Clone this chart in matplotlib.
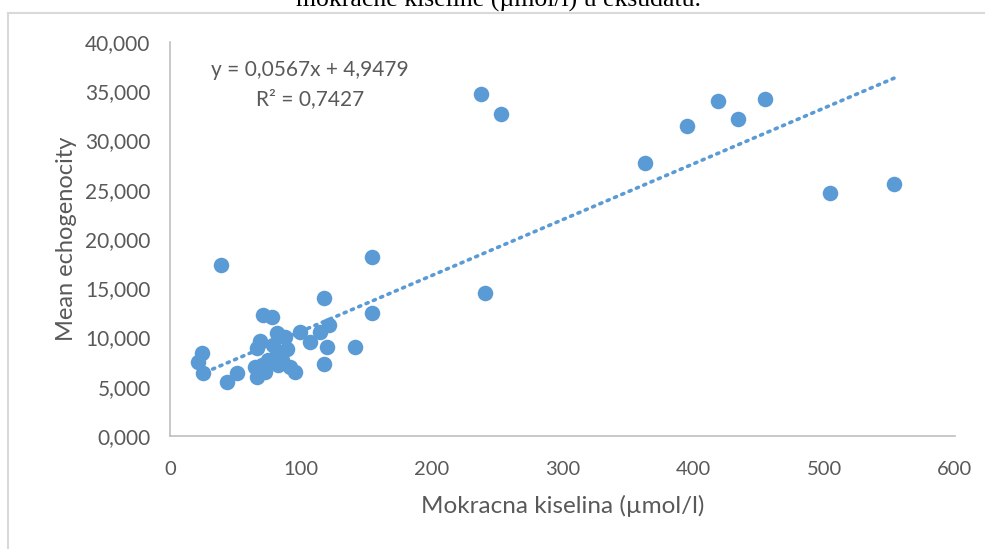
import matplotlib.pyplot as plt
from matplotlib.lines import Line2D
from matplotlib.ticker import FuncFormatter
import numpy as np

# mokracna kiselina (umol/l) vs mean echogenocity (thousands)
kiselina = [24.5, 21.4, 25.2, 43.6, 51.2, 65.0, 66.5, 68.8, 66.5, 71.1,
            78.0, 81.8, 87.9, 89.4, 81.8, 74.9, 82.5, 91.7, 95.5, 99.4,
            107.0, 114.6, 121.5, 117.7, 120.0, 117.7, 141.4, 154.4, 154.4, 39.0,
            72.6, 85.6, 78.7, 70.3,
            237.7, 253.0, 418.8, 434.1, 454.8, 395.1, 363.0, 504.4, 553.4, 240.7]
echo = [8.43, 7.51, 6.40, 5.48, 6.40, 7.00, 5.99, 9.64, 8.93, 12.28,
        12.08, 10.46, 10.05, 8.83, 8.32, 7.72, 7.21, 7.00, 6.50, 10.56,
        9.54, 10.56, 11.27, 14.01, 9.04, 7.31, 9.04, 18.17, 12.49, 17.36,
        6.50, 7.72, 9.24, 7.20,
        34.72, 32.69, 34.01, 32.18, 34.21, 31.47, 27.71, 24.67, 25.58, 14.52]

# linearni trend
nagib = 0.0567
odsjecak = 4.9479
r2 = 0.7427

plava = '#5B9BD5'
siva = '#595959'

fig = plt.figure(figsize=(9.85, 5.49), dpi=100)
ax = fig.add_axes([0.1726, 0.2058, 0.7969, 0.7177])

ax.scatter(kiselina, echo, s=125, color=plava, zorder=3, linewidths=0)
xt = np.array([min(kiselina), max(kiselina)])
ax.plot(xt, nagib * xt + odsjecak, linestyle=(0, (0.6, 1.6)), dash_capstyle='round',
        color=plava, linewidth=2.6, zorder=2)

ax.set_xlim(0, 600)
ax.set_ylim(0, 40)
ax.set_xticks(range(0, 601, 100))
ax.set_yticks(range(0, 41, 5))
ax.yaxis.set_major_formatter(FuncFormatter(lambda v, p: f'{v:.3f}'.replace('.', ',')))
ax.tick_params(length=0, labelcolor=siva)
ax.tick_params(axis='y', labelsize=15, pad=14)
ax.tick_params(axis='x', labelsize=14.5, pad=18)
for lab in ax.get_xticklabels() + ax.get_yticklabels():
    lab.set_family('Lato')
for s in ['top', 'right']:
    ax.spines[s].set_visible(False)
for s in ['left', 'bottom']:
    ax.spines[s].set_color('#BFBFBF')
    ax.spines[s].set_linewidth(1.2)

ax.set_xlabel('Mokracna kiselina (µmol/l)', fontsize=17.5, color=siva, family='Lato', labelpad=12)
ax.set_ylabel('Mean echogenocity', fontsize=17, color=siva, family='Lato', labelpad=6)

fig.text(310 / 985, 1 - 60 / 549, 'y = 0,0567x + 4,9479\nR² = 0,7427',
         fontsize=15, color=siva, family='Lato', ha='center', va='top', linespacing=1.55)

# okvir grafikona i naslov iznad
fig.add_artist(Line2D([8 / 985, 8 / 985], [0, 1 - 12.5 / 549], color='#D9D9D9', lw=1.5))
fig.add_artist(Line2D([8 / 985, 1], [1 - 12.5 / 549, 1 - 12.5 / 549], color='#D9D9D9', lw=1.5))
fig.text(498 / 985, 1 - 7 / 549, 'mokraćne kiseline (µmol/l) u eksudatu.', fontsize=18.5,
         family='Liberation Serif', ha='center', va='baseline', color='black')

fig.savefig('out.png', dpi=100)
